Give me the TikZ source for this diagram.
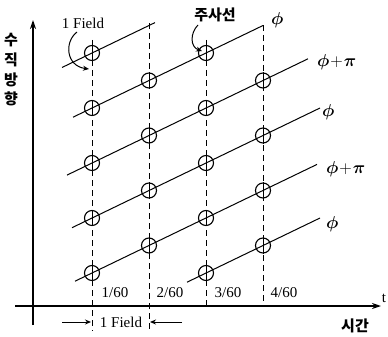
\documentclass[tikz,border=0pt]{standalone}
\usepackage{fontspec}
\usepackage{bm}
\setmainfont{Liberation Serif}
\newfontfamily\kr{Noto Sans CJK KR}
\usetikzlibrary{arrows.meta}
\begin{document}
\begin{tikzpicture}[x=1pt,y=-1pt,
  dot/.style={circle,draw,line width=1.1pt,minimum size=15pt,inner sep=0pt},
  scan/.style={line width=1pt},
  gridl/.style={line width=1pt,dash pattern=on 6pt off 4pt},
  axis/.style={line width=1.5pt},
  lbl/.style={font=\fontsize{15}{15}\selectfont,inner sep=0pt},
  krl/.style={font=\kr\bfseries\fontsize{15}{15}\selectfont,inner sep=0pt},
  phl/.style={font=\fontsize{16}{16}\selectfont,inner sep=0pt,anchor=west},
  arr/.style={line width=1pt,-{Stealth[length=6pt,width=5pt]}}
]
\useasboundingbox (0,0) rectangle (388,337);
% axes
\coordinate (ya0) at (33,325);
\coordinate (ya1) at (33,20);
\coordinate (xa0) at (15,306);
\coordinate (xa1) at (381,306);
\draw[axis,-{Stealth[length=9pt,width=6pt]}] (ya0) -- (ya1);
\draw[axis,-{Stealth[length=9pt,width=6pt]}] (xa0) -- (xa1);
\node[lbl] (t) at (384,298) {t};
\node[krl] (sigan) at (355,326) {시간};
\node[krl] (v1) at (11,40) {수};
\node[krl] (v2) at (11,60) {직};
\node[krl] (v3) at (11,80) {방};
\node[krl] (v4) at (11,99) {향};
% dashed time lines
\coordinate (d1a) at (92,40);  \coordinate (d1b) at (92,331);
\coordinate (d2a) at (149,23); \coordinate (d2b) at (149,331);
\coordinate (d3a) at (206,40); \coordinate (d3b) at (206,306);
\coordinate (d4a) at (263,25); \coordinate (d4b) at (263,306);
\draw[gridl] (d1a) -- (d1b);
\draw[gridl] (d2a) -- (d2b);
\draw[gridl] (d3a) -- (d3b);
\draw[gridl] (d4a) -- (d4b);
% scan lines
\coordinate (s1) at (62,67.5);  \coordinate (e1) at (155,22.6);
\coordinate (s2) at (73,117.2); \coordinate (e2) at (263,25.5);
\coordinate (s3) at (67,175.1); \coordinate (e3) at (308,58.8);
\coordinate (s4) at (72,227.7); \coordinate (e4) at (320,108);
\coordinate (s5) at (75,281.2); \coordinate (e5) at (317,164.4);
\coordinate (s6) at (187,282.2);\coordinate (e6) at (320,218);
\foreach \k in {1,...,6}{\draw[scan] (s\k) -- (e\k);}
% circles
\foreach \k/\y in {1/53,2/108,3/163,4/218,5/273}{
  \node[dot] (a\k) at (92,\y) {};
  \draw[scan] (a\k.north) -- (a\k.south);}
\foreach \k/\y in {2/80.5,3/135.5,4/190.5,5/245.5}{
  \node[dot] (b\k) at (149,\y) {};
  \draw[scan] (b\k.north) -- (b\k.south);}
\foreach \k/\y in {2/53,3/108,4/163,5/218,6/273}{
  \node[dot] (c\k) at (206,\y) {};
  \draw[scan] (c\k.north) -- (c\k.south);}
\foreach \k/\y in {3/80.5,4/135.5,5/190.5,6/245.5}{
  \node[dot] (d\k) at (263,\y) {};
  \draw[scan] (d\k.north) -- (d\k.south);}
% phase labels
\node[phl] (p2) at (271,20) {$\bm{\phi}$};
\node[phl] (p3) at (317,62) {$\bm{\phi}\!+\!\bm{\pi}$};
\node[phl] (p4) at (322,112) {$\bm{\phi}$};
\node[phl] (p5) at (326,169) {$\bm{\phi}\!+\!\bm{\pi}$};
\node[phl] (p6) at (326,224) {$\bm{\phi}$};
% time labels
\node[lbl] (t1) at (115,293) {1/60};
\node[lbl] (t2) at (170,293) {2/60};
\node[lbl] (t3) at (228,293) {3/60};
\node[lbl] (t4) at (284,293) {4/60};
% 1 Field top
\node[lbl] (f1) at (83,23) {1 Field};
\draw[arr] (77,32) .. controls (64,42) and (66,66) .. (89,69);
% scan line label
\node[krl] (jusa) at (215,15) {주사선};
\draw[arr] (198,25) .. controls (190,33) and (190,47) .. (202,51);
% 1 Field bottom
\node[lbl] (f2) at (121,322) {1 Field};
\coordinate (la) at (62,322); \coordinate (lb) at (91,322);
\coordinate (ra) at (182,322); \coordinate (rb) at (150,322);
\draw[arr] (la) -- (lb);
\draw[arr] (ra) -- (rb);
\end{tikzpicture}
\end{document}
